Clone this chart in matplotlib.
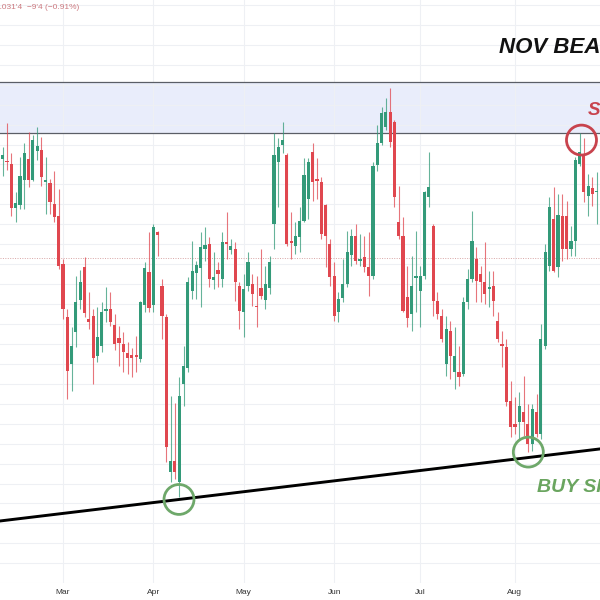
import matplotlib.pyplot as plt
from matplotlib.patches import Ellipse
import numpy as np

plt.rcParams['font.family'] = ['Liberation Sans', 'DejaVu Sans']

# daily OHLC (cents)
opens = [1131, 1129, 1125, 1081, 1084, 1109, 1131, 1109, 1139, 1140,
         1107, 1106, 1085, 1073, 1025, 972, 925, 957, 989, 1022,
         970, 973, 933, 943, 978, 980, 964, 951, 945, 936,
         934, 934, 930, 984, 1017, 984, 1057, 1003, 972, 817,
         828, 807, 905, 921, 998, 1016, 1021, 1040, 1045, 1009,
         1019, 1010, 1047, 1039, 1040, 1003, 977, 1003, 1005, 983,
         1001, 989, 1001, 1065, 1128, 1145, 1135, 1048, 1043, 1052,
         1068, 1090, 1138, 1110, 1107, 1084, 1045, 1013, 977, 991,
         1005, 1034, 1053, 1028, 1032, 1022, 1013, 1124, 1147, 1163,
         1178, 1168, 1067, 1053, 992, 975, 1011, 998, 1013, 1092,
         1063, 988, 973, 925, 958, 917, 917, 915, 987, 1010,
         1030, 1015, 1007, 1000, 1003, 968, 945, 942, 888, 865,
         867, 877, 865, 845, 877, 855, 943, 1023, 1070, 1022,
         1073, 1073, 1040, 1048, 1125, 1135, 1093, 1101, 1097]
closes = [1135, 1127, 1081, 1086, 1113, 1137, 1109, 1150, 1144, 1112,
          1109, 1087, 1072, 1023, 980, 918, 943, 987, 1007, 976,
          967, 931, 952, 977, 980, 967, 945, 946, 937, 931,
          931, 932, 987, 1021, 981, 1062, 1054, 973, 842, 828,
          817, 893, 923, 1007, 1018, 1024, 1042, 1044, 1010, 1012,
          1015, 1047, 1045, 1043, 1007, 978, 1000, 1027, 995, 982,
          993, 1005, 1027, 1135, 1143, 1150, 1045, 1046, 1053, 1068,
          1114, 1127, 1107, 1108, 1055, 1053, 1012, 973, 990, 1005,
          1037, 1053, 1028, 1030, 1022, 1013, 1123, 1147, 1177, 1178,
          1148, 1092, 1053, 978, 971, 1003, 1013, 1013, 1097, 1102,
          988, 975, 950, 960, 933, 933, 912, 987, 1010, 1048,
          1008, 1007, 995, 1002, 988, 950, 943, 887, 862, 862,
          883, 867, 845, 880, 855, 950, 1037, 1082, 1018, 1074,
          1040, 1040, 1048, 1130, 1138, 1097, 1103, 1095, 1097.5]
highs = [1143, 1167, 1137, 1097, 1133, 1147, 1158, 1155, 1163, 1153,
         1133, 1110, 1118, 1100, 1030, 980, 962, 1013, 1019, 1032,
         997, 980, 982, 987, 1002, 997, 975, 963, 957, 947,
         941, 953, 988, 1027, 1057, 1065, 1058, 1010, 975, 893,
         886, 912, 943, 1012, 1048, 1028, 1057, 1062, 1052, 1037,
         1027, 1057, 1077, 1050, 1047, 1007, 1015, 1037, 1015, 1013,
         1040, 1023, 1033, 1157, 1152, 1168, 1137, 1077, 1067, 1082,
         1132, 1132, 1147, 1132, 1112, 1085, 1050, 1027, 997, 1030,
         1058, 1060, 1065, 1055, 1053, 1057, 1128, 1165, 1183, 1192,
         1202, 1170, 1103, 1072, 1023, 1033, 1058, 1023, 1098, 1138,
         1065, 997, 980, 973, 968, 962, 943, 992, 1020, 1078,
         1042, 1023, 1047, 1018, 1018, 977, 958, 950, 908, 892,
         897, 913, 885, 885, 895, 965, 1045, 1092, 1102, 1095,
         1095, 1088, 1063, 1133, 1157, 1152, 1115, 1112, 1117]
lows = [1113, 1119, 1073, 1067, 1080, 1080, 1102, 1108, 1130, 1103,
        1075, 1075, 1067, 1020, 970, 890, 898, 942, 980, 972,
        960, 905, 927, 937, 967, 963, 939, 923, 917, 915,
        912, 917, 927, 977, 977, 977, 1033, 950, 827, 807,
        810, 791, 883, 917, 990, 990, 982, 1028, 1002, 1000,
        1002, 1002, 1030, 1035, 988, 960, 952, 998, 983, 962,
        990, 980, 995, 1040, 1082, 1137, 1043, 1030, 1035, 1037,
        1067, 1070, 1088, 1090, 1050, 1022, 1003, 968, 967, 987,
        1002, 1023, 1025, 1023, 1017, 993, 1010, 1118, 1145, 1160,
        1143, 1082, 1050, 977, 962, 958, 977, 962, 1010, 1082,
        973, 970, 947, 913, 910, 900, 903, 913, 980, 1007,
        987, 987, 985, 982, 973, 947, 922, 883, 852, 855,
        850, 853, 837, 838, 852, 850, 940, 1018, 1017, 1012,
        1028, 1030, 1033, 1033, 1123, 1087, 1073, 1083, 1065]

month_names = ['Mar', 'Apr', 'May', 'Jun', 'Jul', 'Aug']
month_pos = [14, 35, 56, 77, 97, 119]

zone_low, zone_high = 1157, 1208
price_line = 1031
trend_a = (41, 789)
trend_b = (122, 831)

o = np.array(opens, dtype=float)
c = np.array(closes, dtype=float)
h = np.array(highs, dtype=float)
l = np.array(lows, dtype=float)
x = np.arange(len(o))

up_color = '#339a79'
down_color = '#e0474f'
colors = np.where(c >= o, up_color, down_color)

fig = plt.figure(figsize=(6, 6), dpi=100)
ax = fig.add_axes([0, 0.028, 1, 0.972])
xlim = (-0.63, 138.75)
ylim = (706.8, 1290)
ax.set_xlim(*xlim)
ax.set_ylim(*ylim)

# grid
ax.set_yticks(np.arange(705, 1290, 20))
ax.set_xticks(month_pos, month_names)
ax.grid(True, color='#eef0f4', lw=0.8)
ax.set_axisbelow(True)
ax.tick_params(axis='y', left=False, labelleft=False)
ax.tick_params(axis='x', length=0, pad=4, labelsize=6, labelcolor='#333333')
for s in ax.spines.values():
    s.set_visible(False)

# resistance zone
ax.axhspan(zone_low, zone_high, color='#e9edfb', zorder=0.5, lw=0)
ax.axhline(zone_low, color='#5a5e66', lw=0.9, zorder=1)
ax.axhline(zone_high, color='#5a5e66', lw=0.9, zorder=1)

ax.axhline(price_line, color='#d8a5a5', lw=0.7, ls=(0, (1, 1.5)), zorder=1)

# candles
ax.vlines(x, l, h, colors=colors, lw=0.8, alpha=0.75, zorder=2)
body = np.maximum(np.abs(c - o), 1.2)
ax.bar(x, body, bottom=np.minimum(o, c), width=0.74, color=colors, zorder=3)

# trend line
ax.axline(trend_a, trend_b, color='black', lw=2.1, zorder=4)

# circles (round in pixels)
sx = 600 / (xlim[1] - xlim[0])
sy = 583.2 / (ylim[1] - ylim[0])
def circle(cx, cy, color, r=15):
    ax.add_patch(Ellipse((cx, cy), 2 * r / sx, 2 * r / sy, fill=False,
                         ec=color, lw=2, zorder=5))

circle(40.95, 789, '#6ea86a')
circle(122.1, 836.5, '#6ea86a')
circle(134.45, 1149.5, '#c8434d')

ax.text(115.3, 1242.5, 'NOV BEANS', fontsize=16, fontweight='bold',
        fontstyle='italic', color='#111111', va='center', ha='left')
ax.text(124.1, 801, 'BUY SIGNAL', fontsize=14, fontweight='bold',
        fontstyle='italic', color='#6aa55f', va='center', ha='left')
ax.text(136, 1179, 'SELL SIGNAL', fontsize=13.5, fontweight='bold',
        fontstyle='italic', color='#c8434d', va='center', ha='left')

fig.text(-0.005, 0.988, "1031'4  \u22129'4 (\u22120.91%)", fontsize=6,
         color='#cc7a80', va='center', ha='left')

fig.savefig('out.png', dpi=100)
